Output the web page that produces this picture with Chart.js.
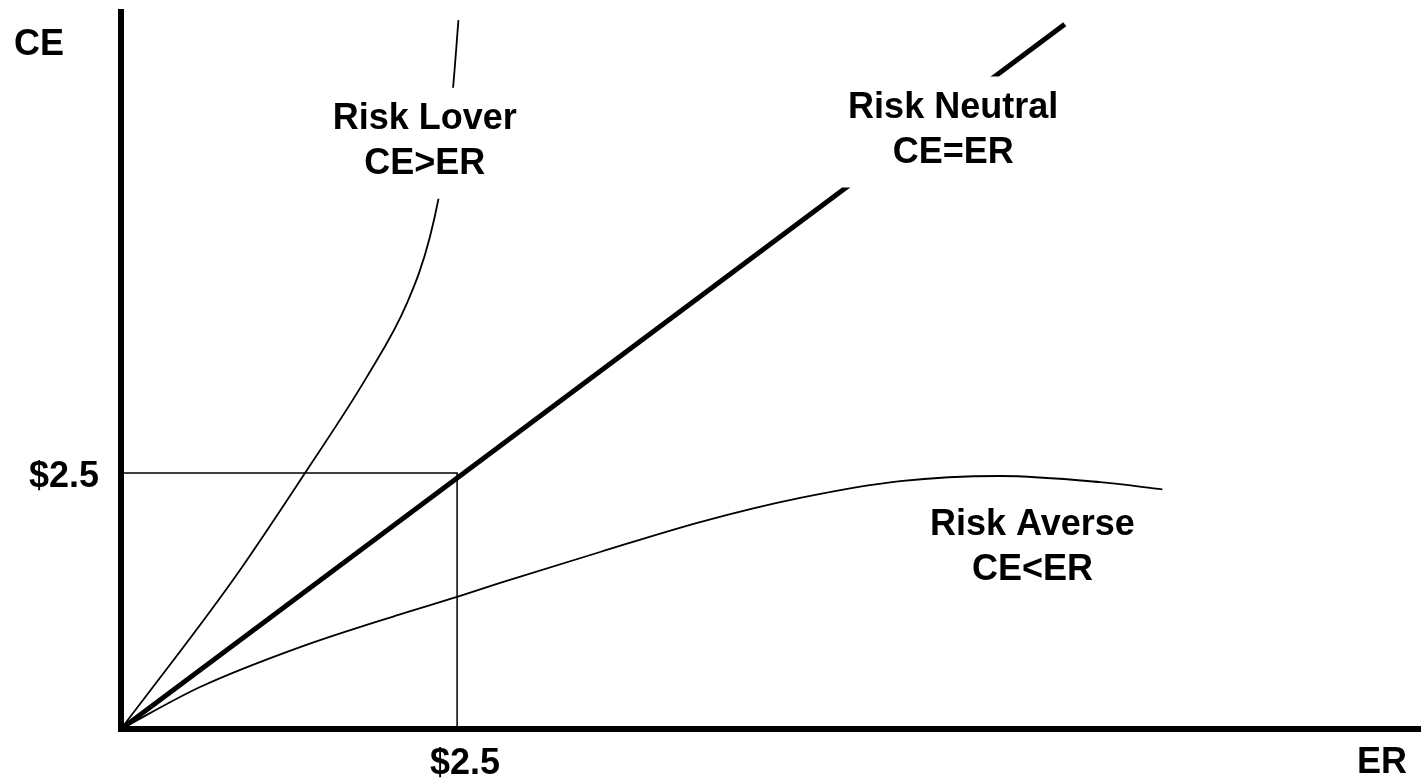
<!DOCTYPE html>
<html>
<head>
<meta charset="utf-8">
<title>Certainty equivalent vs expected return</title>
<script src="https://cdn.jsdelivr.net/npm/chart.js@4.4.1/dist/chart.umd.min.js"></script>
<style>
  html, body { margin: 0; padding: 0; background: #fff; }
  #wrap { width: 1421px; height: 779px; position: relative; }
</style>
</head>
<body>
<div id="wrap"><canvas id="riskChart"></canvas></div>
<script>
// values: ER on x, CE on y
var loverER = [0, 0.833, 1.369, 1.83, 2.128, 2.299, 2.41, 2.47, 2.51];
var loverCE = [0, 1.455, 2.5, 3.44, 4.16, 4.81, 5.55, 6.26, 6.92];

var neutralER = [0, 7.02];
var neutralCE = [0, 6.88];

var averseER = [0, 0.588, 1.332, 2.076, 2.5, 2.82, 3.564, 4.308, 5.052, 5.796, 6.54, 7.284, 7.746];
var averseCE = [0, 0.41, 0.80, 1.12, 1.29, 1.426, 1.728, 2.02, 2.256, 2.42, 2.47, 2.41, 2.34];

// the $2.5 reference point
var guideER = [0, 2.5, 2.5];
var guideCE = [2.5, 2.5, 0];

var tickValues = [2.5];
var tickLabels = ['$2.5'];

var curveNames = [['Risk Lover', 'CE>ER'], ['Risk Neutral', 'CE=ER'], ['Risk Averse', 'CE<ER']];

function toPoints(xs, ys) {
    return xs.map(function (x, i) { return { x: x, y: ys[i] }; });
}

var FONT = 'bold 36px "Liberation Sans", Arial, sans-serif';

// where each curve name sits (data coords of first baseline, centre)
var nameSpots = [
    { x: 2.26, y: 5.86 },
    { x: 6.19, y: 5.97 },
    { x: 6.78, y: 1.895 }
];

var textPlugin = {
    id: 'figureText',
    afterDatasetsDraw: function (chart) {
        var ctx = chart.ctx;
        var xs = chart.scales.x, ys = chart.scales.y, area = chart.chartArea;
        ctx.save();
        ctx.font = FONT;
        ctx.fillStyle = '#000';
        ctx.textBaseline = 'alphabetic';

        curveNames.forEach(function (lines, i) {
            var cx = xs.getPixelForValue(nameSpots[i].x);
            var by = ys.getPixelForValue(nameSpots[i].y);
            var w = Math.max.apply(null, lines.map(function (t) { return ctx.measureText(t).width; }));
            // white box behind the text, it cuts the curve like in the figure
            ctx.fillStyle = '#fff';
            ctx.fillRect(cx - w / 2 - 6, by - 41, w + 12, 45 * (lines.length - 1) + 66);
            ctx.fillStyle = '#000';
            ctx.textAlign = 'center';
            lines.forEach(function (t, j) { ctx.fillText(t, cx, by + 45 * j); });
        });

        // axis names
        ctx.textAlign = 'left';
        ctx.fillText('CE', 14, 55);
        ctx.textAlign = 'center';
        ctx.fillText('ER', 1382, area.bottom + 44);

        // tick labels
        tickValues.forEach(function (v, i) {
            ctx.textAlign = 'center';
            ctx.fillText(tickLabels[i], xs.getPixelForValue(v) + 8, area.bottom + 45);
            ctx.textAlign = 'right';
            ctx.fillText(tickLabels[i], area.left - 22, ys.getPixelForValue(v) + 14);
        });
        ctx.restore();
    }
};

var ctx = document.getElementById('riskChart').getContext('2d');
var riskChart = new Chart(ctx, {
    type: 'scatter',
    data: {
        datasets: [{
            label: 'guide',
            data: toPoints(guideER, guideCE),
            showLine: true,
            borderColor: '#000',
            borderWidth: 1.5,
            pointRadius: 0,
            tension: 0
        }, {
            label: 'Risk Lover',
            data: toPoints(loverER, loverCE),
            showLine: true,
            borderColor: '#000',
            borderWidth: 1.8,
            pointRadius: 0,
            cubicInterpolationMode: 'monotone'
        }, {
            label: 'Risk Neutral',
            data: toPoints(neutralER, neutralCE),
            showLine: true,
            borderColor: '#000',
            borderWidth: 5,
            pointRadius: 0,
            tension: 0
        }, {
            label: 'Risk Averse',
            data: toPoints(averseER, averseCE),
            showLine: true,
            borderColor: '#000',
            borderWidth: 1.8,
            pointRadius: 0,
            cubicInterpolationMode: 'monotone'
        }]
    },
    options: {
        responsive: true,
        maintainAspectRatio: false,
        animation: false,
        layout: { padding: { left: 121, top: 12, right: 0, bottom: 50 } },
        plugins: {
            legend: { display: false },
            tooltip: { enabled: false }
        },
        scales: {
            x: {
                type: 'linear',
                min: 0,
                max: 9.67,
                grid: { display: false, drawTicks: false },
                ticks: { display: false },
                border: { display: true, width: 6, color: '#000' }
            },
            y: {
                type: 'linear',
                min: 0,
                max: 7.0,
                grid: { display: false, drawTicks: false },
                ticks: { display: false },
                border: { display: true, width: 6, color: '#000' }
            }
        }
    },
    plugins: [textPlugin]
});
</script>
</body>
</html>
